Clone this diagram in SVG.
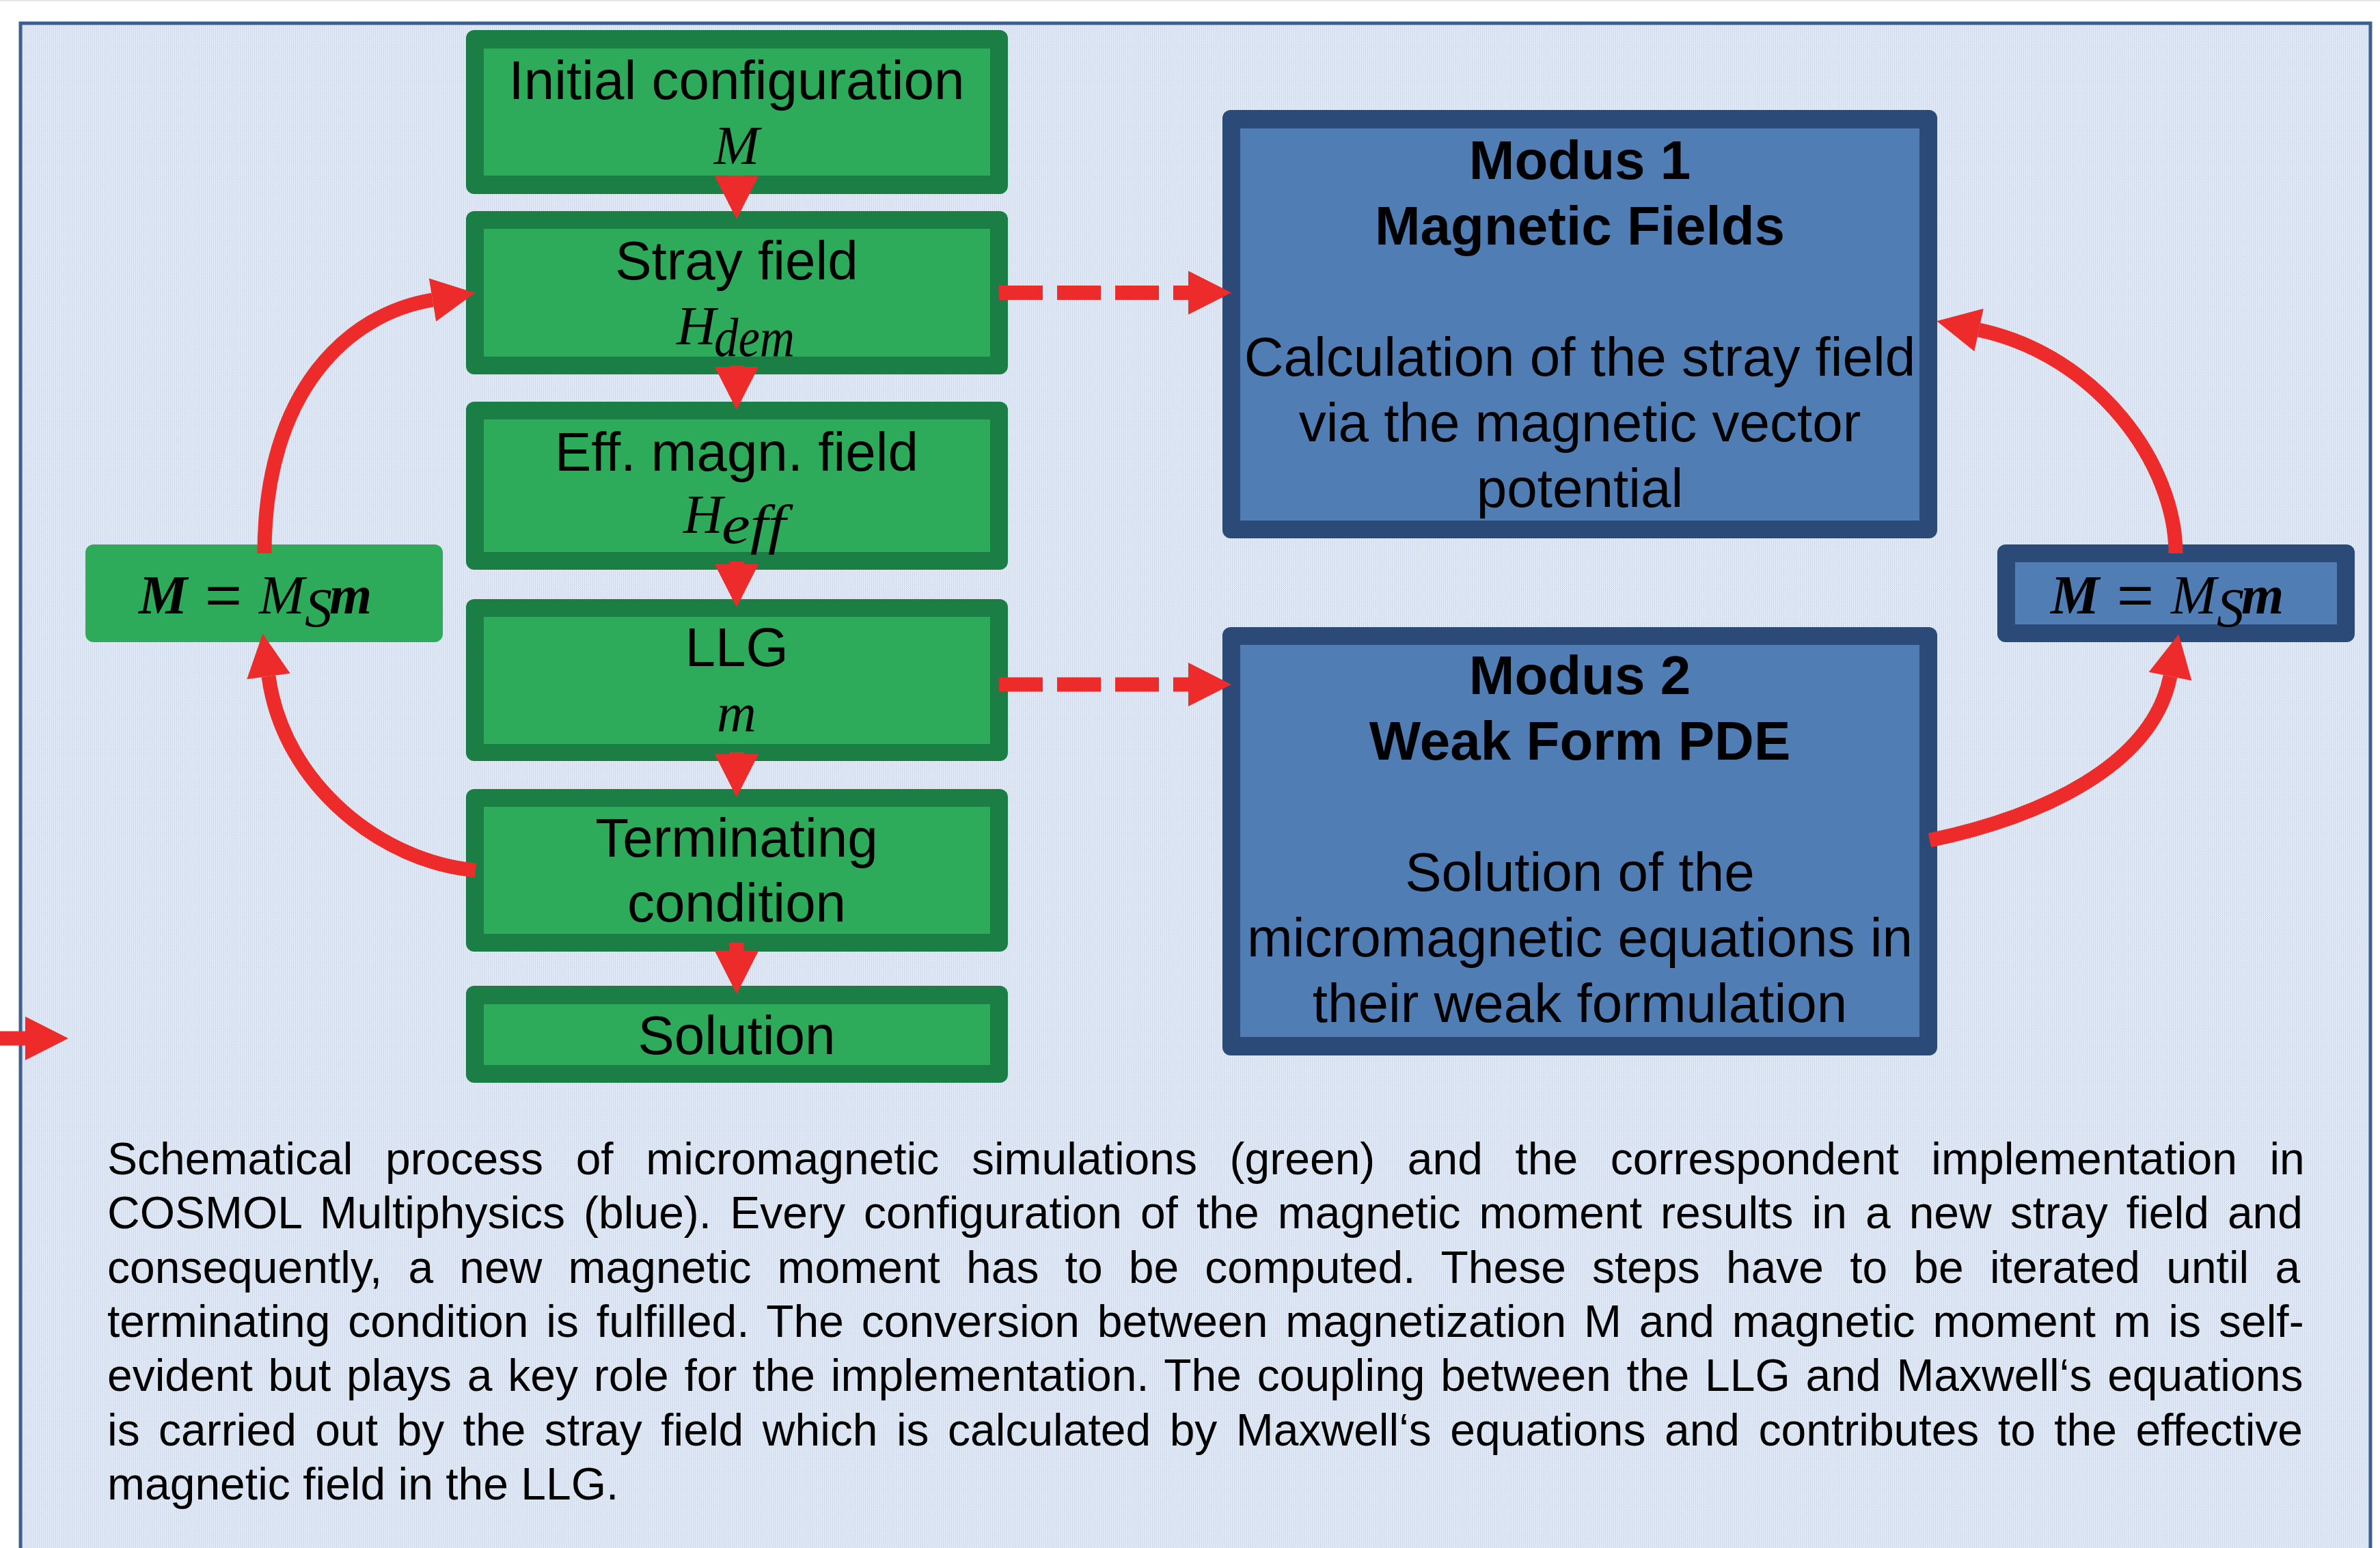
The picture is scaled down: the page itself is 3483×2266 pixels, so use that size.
<svg xmlns="http://www.w3.org/2000/svg" width="3483" height="2266" viewBox="0 0 3483 2266">
<style>
.go{fill:#1b7f45}
.gi{fill:#2eab5a}
.bo{fill:#2b4a78}
.bi{fill:#507db3}
.t{font-family:"Liberation Sans",Arial,sans-serif;font-size:80px;fill:#000;text-anchor:middle}
.b{font-weight:bold}
.m{font-family:"Liberation Serif","Times New Roman",serif;font-style:italic;font-size:80px;fill:#000}
.mb{font-weight:bold}
.eq{font-family:"Liberation Sans",Arial,sans-serif;font-size:80px;fill:#000}
.cap{font-family:"Liberation Sans",Arial,sans-serif;font-size:66px;fill:#000}
.c{stroke:#ee2b2b;stroke-width:21;fill:none;marker-end:url(#ah)}
.d{stroke-dasharray:64 21}
</style>
<defs>
<pattern id="grid" width="3" height="3" patternUnits="userSpaceOnUse">
<rect width="3" height="3" fill="#e6edf6"/>
<rect width="1" height="3" fill="#c8d6eb"/>
<rect width="3" height="1" fill="#d8e2f0"/>
</pattern>
<marker id="ah" markerUnits="userSpaceOnUse" viewBox="0 -32 63 64" markerWidth="63" markerHeight="64" refX="0" refY="0" orient="auto" overflow="visible">
<path d="M0,-32 L63,0 L0,32 Z" fill="#ee2b2b"/>
</marker>
</defs>
<rect width="3483" height="2266" fill="#ffffff"/>
<rect x="0" y="0" width="3483" height="2" fill="#e6e6e6"/>
<rect id="frame" x="30" y="34" width="3439" height="2300" fill="url(#grid)" stroke="#3c5f8e" stroke-width="5"/>

<g id="node-initial">
<rect class="go" x="682" y="44" width="793" height="240" rx="12"/>
<rect class="gi" x="708" y="71" width="741" height="186"/>
<text class="t" x="1078" y="145">Initial configuration</text>
<text class="m" x="1078" y="240" text-anchor="middle">M</text>
</g>
<g id="node-stray">
<rect class="go" x="682" y="309" width="793" height="239" rx="12"/>
<rect class="gi" x="708" y="335" width="741" height="187"/>
<text class="t" x="1078" y="409">Stray field</text>
<text class="m" x="990" y="504">H</text>
<text class="m" x="1045" y="521" font-size="56" textLength="118" lengthAdjust="spacingAndGlyphs">dem</text>
</g>
<g id="node-eff">
<rect class="go" x="682" y="588" width="793" height="246" rx="12"/>
<rect class="gi" x="708" y="614" width="741" height="194"/>
<text class="t" x="1078" y="689">Eff. magn. field</text>
<text class="m" x="1000" y="780">H</text>
<text class="m" x="1056" y="795" font-size="54" textLength="94" lengthAdjust="spacingAndGlyphs">eff</text>
</g>
<g id="node-llg">
<rect class="go" x="682" y="877" width="793" height="237" rx="12"/>
<rect class="gi" x="708" y="903" width="741" height="186"/>
<text class="t" x="1078" y="975">LLG</text>
<text class="m" x="1078" y="1070" text-anchor="middle">m</text>
</g>
<g id="node-term">
<rect class="go" x="682" y="1155" width="793" height="238" rx="12"/>
<rect class="gi" x="708" y="1181" width="741" height="186"/>
<text class="t" x="1078" y="1254">Terminating</text>
<text class="t" x="1078" y="1349">condition</text>
</g>
<g id="node-solution">
<rect class="go" x="682" y="1443" width="793" height="142" rx="12"/>
<rect class="gi" x="708" y="1470" width="741" height="89"/>
<text class="t" x="1078" y="1543">Solution</text>
</g>
<g id="node-conv-left">
<rect class="gi" x="125" y="797" width="523" height="143" rx="12"/>
<text class="m mb" x="203" y="898">M</text>
<text class="eq" x="300" y="898" textLength="54" lengthAdjust="spacingAndGlyphs">=</text>
<text class="m" x="379" y="898">M</text>
<text class="m" x="446" y="917" font-size="52">S</text>
<text class="m mb" x="482" y="898">m</text>
</g>
<g id="node-modus1">
<rect class="bo" x="1789" y="161" width="1046" height="627" rx="12"/>
<rect class="bi" x="1815" y="188" width="994" height="574"/>
<text class="t b" x="2312" y="262">Modus 1</text>
<text class="t b" x="2312" y="358">Magnetic Fields</text>
<text class="t" x="2312" y="550">Calculation of the stray field</text>
<text class="t" x="2312" y="646">via the magnetic vector</text>
<text class="t" x="2312" y="742">potential</text>
</g>
<g id="node-modus2">
<rect class="bo" x="1789" y="918" width="1046" height="627" rx="12"/>
<rect class="bi" x="1815" y="944" width="994" height="574"/>
<text class="t b" x="2312" y="1016">Modus 2</text>
<text class="t b" x="2312" y="1112">Weak Form PDE</text>
<text class="t" x="2312" y="1304">Solution of the</text>
<text class="t" x="2312" y="1400">micromagnetic equations in</text>
<text class="t" x="2312" y="1496">their weak formulation</text>
</g>
<g id="node-conv-right">
<rect class="bo" x="2923" y="797" width="523" height="143" rx="12"/>
<rect class="bi" x="2949" y="823" width="471" height="91"/>
<text class="m mb" x="3001" y="898">M</text>
<text class="eq" x="3098" y="898" textLength="54" lengthAdjust="spacingAndGlyphs">=</text>
<text class="m" x="3177" y="898">M</text>
<text class="m" x="3244" y="917" font-size="52">S</text>
<text class="m mb" x="3280" y="898">m</text>
</g>

<g id="connectors">
<path class="c" d="M1078,257 L1078,258"/>
<path class="c" d="M1078,535 L1078,537"/>
<path class="c" d="M1078,822 L1078,826"/>
<path class="c" d="M1078,1101 L1078,1104"/>
<path class="c" d="M1078,1380 L1078,1392"/>
<path class="c d" d="M1462,428.5 L1739,428.5"/>
<path class="c d" d="M1462,1002 L1739,1002"/>
<path class="c" d="M387,810 C387,570 511,459 633,439"/>
<path class="c" d="M696,1274 C560,1262 415,1150 393,990"/>
<path class="c" d="M3184,810 C3184,680 3070,520 2896,483"/>
<path class="c" d="M2824,1230 C2990,1195 3150,1120 3176,990"/>
<path class="c" d="M0,1520 L37,1520"/>
</g>

<g id="caption" class="cap">
<text x="157" y="1719" word-spacing="29.2">Schematical process of micromagnetic simulations (green) and the correspondent implementation in</text>
<text x="157" y="1798" word-spacing="8.7">COSMOL Multiphysics (blue). Every configuration of the magnetic moment results in a new stray field and</text>
<text x="157" y="1878" word-spacing="19.8">consequently, a new magnetic moment has to be computed. These steps have to be iterated until a</text>
<text x="157" y="1957" word-spacing="7.5">terminating condition is fulfilled. The conversion between magnetization M and magnetic moment m is self-</text>
<text x="157" y="2036" word-spacing="4.4">evident but plays a key role for the implementation. The coupling between the LLG and Maxwell‘s equations</text>
<text x="157" y="2116" word-spacing="9.1">is carried out by the stray field which is calculated by Maxwell‘s equations and contributes to the effective</text>
<text x="157" y="2195">magnetic field in the LLG.</text>
</g>
</svg>
